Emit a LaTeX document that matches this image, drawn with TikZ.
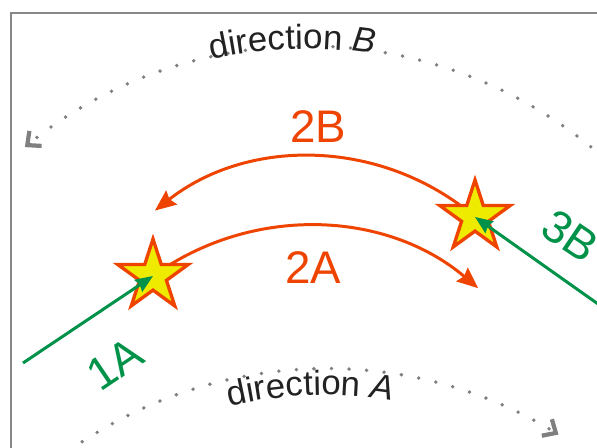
\documentclass[tikz,border=0pt]{standalone}
\usepackage{fontspec}
\setmainfont{Liberation Sans}
\usetikzlibrary{arrows.meta,shapes.geometric,decorations.text}
\definecolor{orng}{RGB}{238,68,0}
\definecolor{grn}{RGB}{0,146,72}
\definecolor{yel}{RGB}{238,234,0}
\definecolor{dotgray}{RGB}{128,128,128}
\definecolor{framegray}{RGB}{136,136,136}
\definecolor{txtgray}{RGB}{34,34,34}
\newcommand{\lblfont}{\fontsize{26}{30}\selectfont}
\newcommand{\dirfont}{\fontsize{19.8}{24}\selectfont}
\tikzset{
 starnode/.style={star, star points=5, star point ratio=2.618, minimum size=1.48cm, inner sep=0pt, draw=orng, fill=yel, line width=1.9pt},
 orangearc/.style={draw=orng, line width=1.7pt, -{Stealth[length=12pt,width=10pt,inset=1.5pt]}},
 greenarrow/.style={draw=grn, line width=1.7pt, -{Stealth[length=10pt,width=8pt,inset=1pt]}},
 dotarc/.style={draw=dotgray, line width=2.2pt, line cap=round, dash pattern=on 0pt off 10pt, -{Straight Barb[length=6pt,width=11pt,line width=2.4pt]}},
 orangelabel/.style={text=orng, font=\lblfont, inner sep=0pt},
 greenlabel/.style={text=grn, font=\lblfont, inner sep=0pt},
}
\begin{document}
\begin{tikzpicture}[x=0.02cm,y=0.02cm]
\useasboundingbox (0,0) rectangle (597,448);
\clip (0,0) rectangle (597,448);
% frame
\coordinate (fa) at (11,-10);
\coordinate (fb) at (11,435);
\coordinate (fc) at (640,435);
\draw[framegray, line width=1.1pt] (fa) -- (fb) -- (fc);
% dotted direction arcs
\coordinate (cB) at (308,-45);
\coordinate (cA) at (326,-366);
\path (cB) ++(35:447) coordinate (bstart);
\path (cA) ++(130:445) coordinate (astart);
\draw[dotarc] (bstart) arc[start angle=35, end angle=129.3, radius=447];
\draw[dotarc] (astart) arc[start angle=130, end angle=58.5, radius=445];
\path (cB) ++(132:444) coordinate (tb);
\path (cA) ++(132.1:419) coordinate (ta);
\path[decorate, decoration={text along path, text color=txtgray, text align=center,
  text={|\dirfont|direction |\dirfont\itshape|B}}] (tb) arc[start angle=132, end angle=52, radius=444];
\path[decorate, decoration={text along path, text color=txtgray, text align=center,
  text={|\dirfont|direction |\dirfont\itshape|A}}] (ta) arc[start angle=132.1, end angle=52.1, radius=419];
% star positions
\coordinate (p1) at (153,172);
\coordinate (p2) at (475,231);
% orange arcs
\draw[orangearc] (p1) arc[start angle=125.9, end angle=49.8, radius=264];
\draw[orangearc] (p2) arc[start angle=49.6, end angle=128.1, radius=253];
% stars
\node[starnode] (s1) at (p1) {};
\node[starnode] (s2) at (p2) {};
% green arrows
\coordinate (g1) at (23,85);
\coordinate (g3) at (615,132);
\draw[greenarrow] (g1) -- (s1.center);
\draw[greenarrow] (g3) -- (s2.center);
% labels
\node[orangelabel] (l2b) at (318,321) {2B};
\node[orangelabel] (l2a) at (313,180) {2A};
\node[greenlabel, rotate=34] (l1a) at (115,84) {1A};
\node[greenlabel, rotate=-34] (l3b) at (570,212) {3B};
\end{tikzpicture}
\end{document}
